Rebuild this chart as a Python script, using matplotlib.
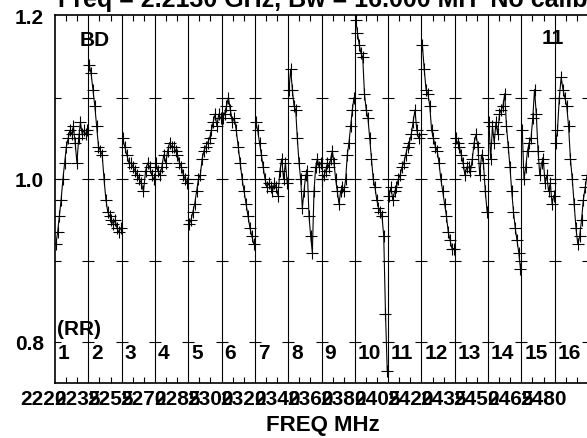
import matplotlib
matplotlib.use("Agg")
import matplotlib.pyplot as plt
import numpy as np

plt.rcParams['font.family'] = ['Liberation Sans', 'DejaVu Sans']
plt.rcParams['font.weight'] = 'bold'

# IF numbers and frequency labels along the bottom
if_labels = [str(i) for i in range(1, 17)]
freq_labels = ['2220', '2235', '2255', '2270', '2285', '2300', '2320', '2340',
               '2360', '2380', '2405', '2420', '2435', '2450', '2465', '2480']
y_ticks = [0.8, 1.0, 1.2]

# amplitude per channel, one list per IF
if01 = [0.92, 0.935, 0.955, 0.975, 1.0, 1.02, 1.04, 1.05, 1.06, 1.055, 1.065,
        1.045, 1.02, 1.05, 1.07, 1.055, 1.06, 1.055, 1.06]
if02 = [1.14, 1.13, 1.11, 1.09, 1.065, 1.04, 1.035, 1.03, 1.0, 0.975, 0.96,
        0.955, 0.95, 0.945, 0.95, 0.94, 0.935, 0.94]
if03 = [1.05, 1.04, 1.03, 1.02, 1.02, 1.015, 1.01, 1.005, 1.0, 0.995, 0.985,
        1.01, 1.02, 1.015, 1.005, 1.0]
if04 = [1.02, 1.01, 1.005, 1.015, 1.03, 1.02, 1.035, 1.045, 1.04, 1.04, 1.035,
        1.03, 1.02, 1.015, 1.005, 1.0, 0.995]
if05 = [0.945, 0.95, 0.96, 0.97, 0.985, 1.0, 1.005, 1.025, 1.035, 1.04, 1.045,
        1.05, 1.06, 1.07, 1.08, 1.065, 1.08, 1.075]
if06 = [1.075, 1.08, 1.09, 1.1, 1.085, 1.07, 1.075, 1.06, 1.04, 1.02, 1.0,
        0.985, 0.97, 0.955, 0.94, 0.93, 0.92]
if07 = [1.07, 1.06, 1.045, 1.03, 1.015, 1.0, 0.99, 0.995, 0.99, 0.985, 0.995,
        0.99, 0.98, 1.01, 1.025, 1.0, 1.02, 0.995]
if08 = [1.11, 1.135, 1.11, 1.09, 1.085, 1.05, 1.02, 1.0, 0.965, 0.985, 1.005,
        1.01, 0.955, 0.93, 0.91, 0.985, 1.015, 1.025, 1.015, 1.02]
if09 = [1.0, 1.005, 1.01, 1.02, 1.015, 1.025, 1.035, 1.02, 1.0, 0.985, 0.97,
        0.985, 0.99, 0.985, 1.0, 1.03, 1.045, 1.065, 1.085, 1.1]
if10 = [1.195, 1.18, 1.165, 1.155, 1.15, 1.105, 1.085, 1.075, 1.05, 1.025, 1.0,
        0.99, 0.975, 0.965, 0.96, 0.955, 0.93, 0.835, 0.765]
if11 = [0.98, 0.99, 0.975, 0.985, 0.99, 1.0, 1.005, 1.015, 1.02, 1.03, 1.04,
        1.045, 1.055, 1.07, 1.085, 1.06, 1.05, 1.055]
if12 = [1.165, 1.135, 1.11, 1.105, 1.09, 1.06, 1.05, 1.04, 1.035, 1.02, 1.0,
        0.985, 0.97, 0.955, 0.935, 0.925, 0.915, 0.915]
if13 = [1.05, 1.045, 1.04, 1.03, 1.02, 1.005, 1.015, 1.015, 1.01, 1.025, 1.045,
        1.055, 1.04, 1.005, 1.03, 1.02, 0.985, 0.96]
if14 = [1.07, 1.025, 1.065, 1.045, 1.07, 1.055, 1.08, 1.085, 1.09, 1.105, 1.065,
        1.04, 1.015, 0.985, 0.96, 0.94, 0.925, 0.91, 0.89]
if15 = [1.06, 1.0, 1.015, 1.035, 1.045, 1.05, 1.075, 1.11, 1.08, 1.035, 1.005,
        1.02, 1.025, 0.995, 1.005, 0.985, 0.995, 0.97, 0.98]
if16 = [1.045, 1.06, 1.1, 1.125, 1.11, 1.1, 1.09, 1.065, 1.025, 1.0, 0.97,
        0.94, 0.92, 0.93, 0.95, 0.975, 0.99, 1.005]
ifdata = [if01, if02, if03, if04, if05, if06, if07, if08,
          if09, if10, if11, if12, if13, if14, if15, if16]

fig = plt.figure(figsize=(5.87, 4.38), dpi=100)
ax = fig.add_axes([55/587, 55/438, 533/587, 368/438])

for i, vals in enumerate(ifdata):
    n = len(vals)
    x = i + (np.arange(n) + 0.5) / n
    ax.plot(x, vals, color='k', lw=0.8, marker='+', ms=8, mew=0.8)

# IF separators and the little per-IF y ticks
for b in range(1, 17):
    ax.axvline(b, color='k', lw=0.8)
bx = np.repeat(np.arange(17), 4)
by = np.tile([0.8, 0.9, 1.0, 1.1], 17)
ax.plot(bx, by, ls='none', marker='_', ms=9, mew=0.8, color='k')

ax.set_xlim(0, 16)
ax.set_ylim(0.75, 1.2015)
ax.spines['right'].set_visible(False)
for s in ['left', 'bottom', 'top']:
    ax.spines[s].set_linewidth(1.2)

ax.set_xticks([])
minor = [i + k / 3 for i in range(16) for k in (1, 2)]
ax.set_xticks(minor, minor=True)
ax.tick_params(axis='x', which='minor', direction='in', length=4, width=0.8,
               top=True, bottom=True)

ax.set_yticks(y_ticks)
ax.set_yticklabels(['%.1f' % v for v in y_ticks], fontsize=15, fontweight='bold')
ax.tick_params(axis='y', length=0, pad=8)

tr = ax.get_xaxis_transform()
for i, lab in enumerate(freq_labels):
    ax.text(i - 1/3, -0.046, lab, transform=tr, ha='center', va='center',
            fontsize=15, fontweight='bold', clip_on=False)

for i, lab in enumerate(if_labels):
    ax.text(i + 0.09, 0.786, lab, ha='left', va='center', fontsize=15,
            fontweight='bold')
ax.text(0.06, 0.816, '(RR)', ha='left', va='center', fontsize=15, fontweight='bold')
ax.text(1.2, 1.17, 'BD', ha='center', va='center', fontsize=15, fontweight='bold')
ax.text(14.94, 1.173, '11', ha='center', va='center', fontsize=15, fontweight='bold')

fig.text(323/587, 1 - 425/438, 'FREQ MHz', ha='center', va='center',
         fontsize=16, fontweight='bold')
fig.text(58/587, 1 - 7/438, 'Freq = 2.2130 GHz, Bw = 16.000 MH  No calibration applied',
         ha='left', va='baseline', fontsize=18, fontweight='bold')

fig.savefig('out.png', dpi=100)
